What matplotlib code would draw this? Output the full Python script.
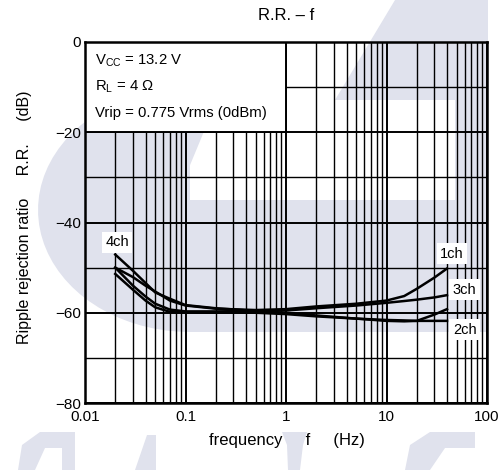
import numpy as np
import matplotlib
matplotlib.use("Agg")
import matplotlib.pyplot as plt
from matplotlib.patches import Polygon, Rectangle

plt.rcParams['font.family'] = ['Liberation Sans', 'DejaVu Sans']
plt.rcParams['mathtext.default'] = 'regular'

# frequency points (Hz) and ripple rejection (dB)
freq = [0.02, 0.03, 0.04, 0.05, 0.07, 0.1, 0.2, 0.5, 1, 2, 5, 10, 15, 20, 30, 40]
rr_4ch = [-47.1, -50.7, -53.4, -55.5, -56.9, -58.3, -59.0, -59.6, -60.0, -60.6, -61.3, -61.8, -61.9, -61.8, -60.4, -59.2]
rr_1ch = [-50.0, -52.1, -54.0, -55.3, -57.3, -58.4, -59.1, -59.4, -59.2, -58.6, -58.0, -57.3, -56.3, -54.7, -52.2, -50.2]
rr_3ch = [-50.0, -54.0, -56.4, -58.0, -59.3, -59.7, -59.7, -59.6, -59.5, -59.0, -58.4, -57.8, -57.4, -57.1, -56.6, -56.1]
rr_2ch = [-51.4, -54.9, -57.3, -58.8, -59.8, -59.9, -60.0, -60.0, -60.3, -60.8, -61.3, -61.6, -61.7, -61.8, -61.8, -61.8]

labels = ['4ch', '1ch', '3ch', '2ch']
label_pos = [(0.0208, -44.4), (45, -46.9), (60, -54.9), (60, -63.8)]

x_ticks = [0.01, 0.1, 1, 10, 100]
x_ticklabels = ['0.01', '0.1', '1', '10', '100']
y_ticks = [0, -20, -40, -60, -80]
y_ticklabels = ['0', '\u221220', '\u221240', '\u221260', '\u221280']

W, H = 504, 470
fig = plt.figure(figsize=(W / 100, H / 100), dpi=100)

# faint watermark in the background (pixel coords, y from top)
wm = '#e0e2ed'
def px(points):
    return [(x / W, 1 - y / H) for x, y in points]

t = np.linspace(np.pi / 2, 3 * np.pi / 2, 40)
half_ellipse = [(190 + 152 * np.cos(a), 210 - 122 * np.sin(a)) for a in t]
shapes = [
    half_ellipse,
    [(188, 88), (222, 88), (188, 170)],
    [(188, 200), (487, 200), (487, 332), (188, 332)],
    [(395, 0), (488, 0), (488, 100), (335, 100)],
    [(455, 100), (488, 100), (488, 200), (455, 200)],
    [(18, 470), (22, 445), (40, 432), (75, 432), (75, 470), (62, 470), (62, 448), (45, 448), (35, 470)],
    [(135, 470), (147, 435), (156, 435), (156, 470)],
    [(282, 432), (307, 432), (303, 445), (300, 470), (288, 470), (287, 445)],
    [(405, 470), (410, 445), (430, 432), (475, 432), (475, 448), (445, 448), (430, 470)],
]
for s in shapes:
    fig.patches.append(Polygon(px(s), closed=True, transform=fig.transFigure,
                               facecolor=wm, edgecolor='none', zorder=-5))

ax = fig.add_axes([85 / W, 1 - 403 / H, (487 - 85) / W, (403 - 42) / H])
ax.set_facecolor('none')
ax.set_xscale('log')
ax.set_xlim(0.01, 100)
ax.set_ylim(-80, 0)

ax.set_xticks(x_ticks)
ax.set_xticklabels(x_ticklabels)
ax.set_xticks([m * 10.0 ** e for e in range(-2, 2) for m in range(2, 10)], minor=True)
ax.set_yticks(y_ticks)
ax.set_yticklabels(y_ticklabels)
ax.set_yticks([-10, -30, -50, -70], minor=True)
ax.tick_params(which='both', length=0, labelsize=11)
ax.tick_params(axis='x', pad=5)
ax.tick_params(axis='y', pad=3)
ax.grid(which='major', color='black', lw=1.4, zorder=1)
ax.grid(which='minor', color='black', lw=1.0, zorder=1)
for sp in ax.spines.values():
    sp.set_linewidth(1.8)
    sp.set_zorder(6)

for series in (rr_4ch, rr_1ch, rr_3ch, rr_2ch):
    ax.plot(freq, series, color='black', lw=1.8, zorder=4)

for lab, (lx, ly) in zip(labels, label_pos):
    ax.text(lx, ly, lab, ha='center', va='center', fontsize=10.5, zorder=5,
            bbox=dict(facecolor='white', edgecolor='none', pad=2.5))

# condition box in the upper-left cell
ax.add_patch(Rectangle((0.01, -20), 0.99, 20, facecolor='white', edgecolor='black',
                       lw=1.4, zorder=3))
ax.text(0.0125, -4.2, 'V$_{CC}$ = 13.2 V', fontsize=10.7, va='center', zorder=5)
ax.text(0.0125, -10, 'R$_{L}$ = 4 \u03a9', fontsize=10.7, va='center', zorder=5)
ax.text(0.0125, -15.8, 'Vrip = 0.775 Vrms (0dBm)', fontsize=10.7, va='center', zorder=5)

fig.text(286 / W, 1 - 15 / H, 'R.R. \u2013 f', ha='center', va='center', fontsize=12)
fig.text(287 / W, 1 - 440 / H, 'frequency     f     (Hz)', ha='center', va='center', fontsize=12)
fig.text(25 / W, 1 - 217 / H, 'Ripple rejection ratio     R.R.     (dB)', ha='center', va='center',
         rotation=90, fontsize=11.5)

fig.savefig('out.png', dpi=100)
